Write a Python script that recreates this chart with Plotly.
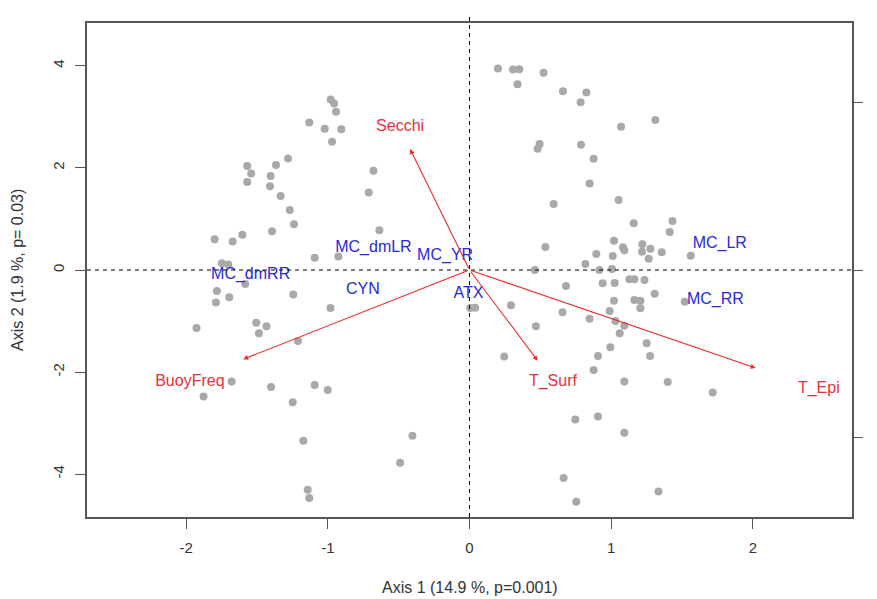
import plotly.graph_objects as go

# ---- data ----
site_x = [-0.98, -0.956, -0.942, -1.131, -1.022, -0.905, -0.97, -1.281, -1.366, -1.569,
          -1.541, -1.404, -1.569, -1.408, -0.678, -1.333, -0.711, -1.269, -1.239, -1.394,
          -0.636, -1.799, -1.672, -1.603, -1.093, -0.926, -1.748, -1.703, -1.583, -1.783,
          -1.696, -1.79, -1.244, -0.981, -1.927, -1.505, -1.433, -1.486, -1.211, -1.679,
          -1.877, -1.401, -1.093, -1.001, -1.248, -0.403, -1.173, -0.49, -1.142, -1.131,
          0.005, 0.04, 0.201, 0.307, 0.351, 0.523, 0.339, 0.66, 0.825, 0.784,
          1.312, 1.07, 0.495, 0.481, 0.787, 0.876, 0.848, 0.594, 1.053, 1.159,
          1.433, 1.413, 0.535, 1.02, 1.084, 1.093, 1.22, 1.277, 1.218, 1.357,
          0.895, 1.011, 1.265, 1.562, 0.818, 0.461, 0.917, 1.006, 0.681, 0.94,
          1.025, 1.129, 1.164, 1.235, 1.307, 1.02, 1.164, 1.206, 1.206, 1.519,
          0.293, 0.657, 0.989, 0.848, 1.03, 1.093, 1.06, 0.469, 1.251, 0.994,
          1.275, 0.907, 0.245, 0.876, 1.093, 1.399, 1.717, 0.747, 0.907, 1.093,
          0.664, 1.334, 0.754]
site_y = [3.342, 3.264, 3.099, 2.892, 2.766, 2.76, 2.512, 2.187, 2.056, 2.036,
          1.893, 1.84, 1.723, 1.639, 1.944, 1.449, 1.521, 1.175, 0.895, 0.758,
          0.777, 0.601, 0.558, 0.689, 0.241, 0.264, 0.131, 0.108, -0.274, -0.411,
          -0.534, -0.636, -0.48, -0.744, -1.135, -1.032, -1.1, -1.239, -1.39, -2.187,
          -2.48, -2.291, -2.251, -2.349, -2.59, -3.25, -3.348, -3.778, -4.307, -4.469,
          -0.744, -0.738, 3.949, 3.929, 3.935, 3.863, 3.641, 3.504, 3.479, 3.289,
          2.937, 2.805, 2.467, 2.375, 2.453, 2.179, 1.697, 1.292, 1.37, 0.914,
          0.959, 0.744, 0.45, 0.574, 0.444, 0.386, 0.503, 0.417, 0.358, 0.347,
          0.313, 0.274, 0.221, 0.28, 0.117, 0.0, 0.0, 0.02, -0.313, -0.26,
          -0.254, -0.182, -0.182, -0.196, -0.464, -0.601, -0.587, -0.601, -0.75, -0.621,
          -0.691, -0.828, -0.803, -0.953, -0.998, -1.09, -1.239, -1.102, -1.435, -1.513,
          -1.684, -1.684, -1.697, -1.958, -2.187, -2.193, -2.402, -2.931, -2.872, -3.191,
          -4.078, -4.34, -4.542]

env_names = ["Secchi", "BuoyFreq", "T_Surf", "T_Epi"]
env_tip_x = [-0.419, -1.597, 0.481, 2.019]
env_tip_y = [2.369, -1.748, -1.776, -1.919]
env_lab_x = [-0.49, -1.974, 0.589, 2.466]
env_lab_y = [2.80, -2.187, -2.187, -2.33]

sp_names = ["MC_dmLR", "MC_YR", "MC_dmRR", "CYN", "ATX", "MC_LR", "MC_RR"]
sp_x = [-0.678, -0.172, -1.545, -0.753, -0.007, 1.767, 1.736]
sp_y = [0.425, 0.274, -0.098, -0.392, -0.476, 0.509, -0.587]

x_ticks = [-2, -1, 0, 1, 2]
x_tick_labels = ["-2", "-1", "0", "1", "2"]
y_ticks = [-4, -2, 0, 2, 4]
y_tick_labels = ["-4", "-2", "0", "2", "4"]
y2_ticks = [-1, 0, 1]
y2_tick_labels = ["-1", "0", "1"]

x_title = "Axis 1 (14.9 %, p=0.001)"
y_title = "Axis 2 (1.9 %, p= 0.03)"

FONT = "Liberation Sans, Arial, Helvetica, sans-serif"
RED = "#e8303a"
BLUE = "#2a2ad0"
AX = "#555555"
TXT = "#333333"

fig = go.Figure()

fig.add_trace(go.Scatter(
    x=site_x, y=site_y, mode="markers",
    marker=dict(size=8, color="#a9a9a9"),
    hoverinfo="skip", showlegend=False))

fig.add_trace(go.Scatter(
    x=sp_x, y=sp_y, mode="text", text=sp_names,
    textfont=dict(family=FONT, size=16, color=BLUE),
    hoverinfo="skip", showlegend=False))

fig.add_trace(go.Scatter(
    x=env_lab_x, y=env_lab_y, mode="text", text=env_names,
    textfont=dict(family=FONT, size=16, color=RED),
    hoverinfo="skip", showlegend=False))

# invisible trace to instantiate the right-hand axis
fig.add_trace(go.Scatter(x=[0], y=[0], yaxis="y2", mode="markers",
                         marker=dict(size=1, opacity=0), hoverinfo="skip",
                         showlegend=False))

annotations = []
for tx, ty in zip(env_tip_x, env_tip_y):
    annotations.append(dict(
        x=tx, y=ty, ax=0, ay=0, xref="x", yref="y", axref="x", ayref="y",
        text="", showarrow=True, arrowhead=2, arrowsize=0.9, arrowwidth=1.1,
        arrowcolor="#ee2a2a"))

annotations.append(dict(text=x_title, xref="paper", yref="paper",
                        x=0.5, y=-0.1437, xanchor="center", yanchor="middle",
                        showarrow=False, font=dict(family=FONT, size=16, color=TXT)))
annotations.append(dict(text=y_title, xref="paper", yref="paper",
                        x=-0.0915, y=0.5, xanchor="center", yanchor="middle",
                        textangle=-90, showarrow=False,
                        font=dict(family=FONT, size=16, color=TXT)))

shapes = [
    dict(type="line", xref="x", yref="paper", x0=0, x1=0, y0=0.0, y1=1.02,
         line=dict(color="black", width=1, dash="4px,4px")),
    dict(type="line", xref="paper", yref="y", x0=0, x1=1, y0=0, y1=0,
         line=dict(color="black", width=1, dash="4px,4px")),
]

fig.update_layout(
    width=877, height=599,
    margin=dict(l=79, r=33, t=15, b=90),
    paper_bgcolor="white", plot_bgcolor="white",
    font=dict(family=FONT, size=15, color=TXT),
    showlegend=False,
    annotations=annotations,
    shapes=shapes,
    xaxis=dict(range=[-2.70, 2.70], tickvals=x_ticks, ticktext=x_tick_labels,
               ticks="outside", ticklen=10,
               tickcolor=AX, tickwidth=1.2, showline=True, linecolor=AX, linewidth=1.6,
               mirror=True, showgrid=False, zeroline=False, automargin=False,
               tickfont=dict(family=FONT, size=15, color=TXT),
               ticklabelstandoff=6),
    yaxis=dict(range=[-4.84, 4.84], tickvals=y_ticks, ticktext=y_tick_labels,
               ticks="outside", ticklen=10,
               tickcolor=AX, tickwidth=1.2, showline=True, linecolor=AX, linewidth=1.6,
               mirror=True, showgrid=False, zeroline=False, automargin=False,
               tickangle=-90, tickfont=dict(family=FONT, size=15, color=TXT),
               ticklabelstandoff=5),
    yaxis2=dict(range=[-1.475, 1.475], tickvals=y2_ticks, ticktext=y2_tick_labels,
                overlaying="y", side="right",
                ticks="outside", ticklen=10, tickcolor=AX, tickwidth=1.2,
                showline=False, showgrid=False, zeroline=False, automargin=False,
                tickangle=-90, tickfont=dict(family=FONT, size=15, color=TXT),
                ticklabelstandoff=1),
)

fig.write_html("out.html")
